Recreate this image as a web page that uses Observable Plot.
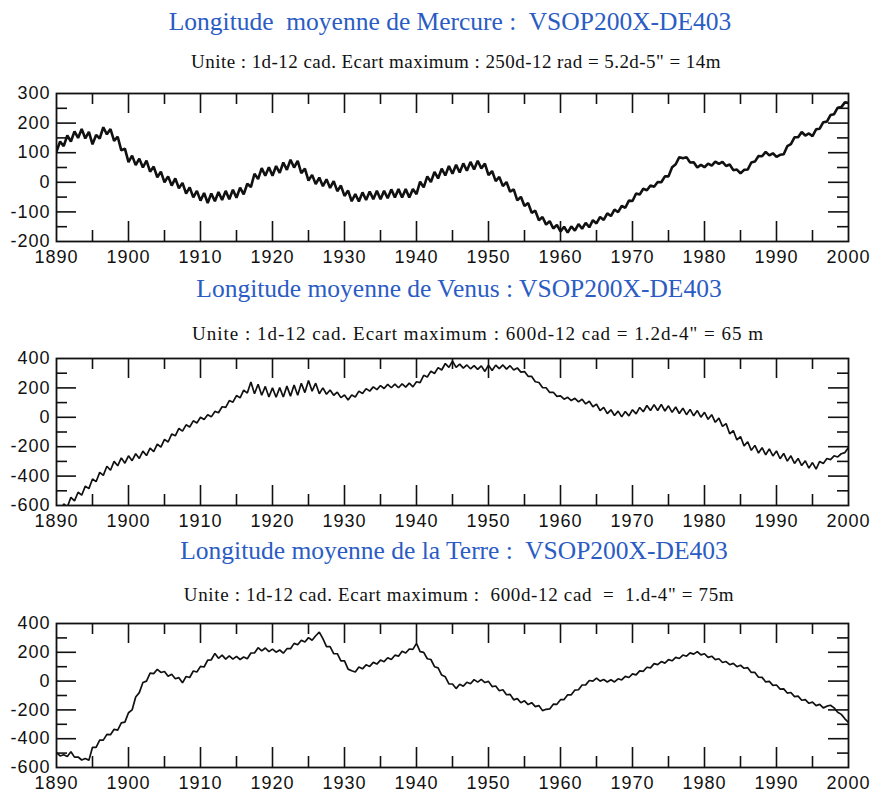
<!DOCTYPE html>
<html><head><meta charset="utf-8">
<script src="https://cdn.jsdelivr.net/npm/d3@7"></script>
<script src="https://cdn.jsdelivr.net/npm/@observablehq/plot@0.6"></script>
<style>
body{margin:0;background:#fff;}
#root{position:relative;width:877px;height:792px;overflow:hidden;background:#fff;}
.title{position:absolute;font-family:"Liberation Serif","Times New Roman",serif;color:#2a5cc4;font-size:25.5px;line-height:28px;white-space:pre;transform:translateX(-50%);}
.sub{position:absolute;font-family:"Liberation Serif","Times New Roman",serif;color:#111;font-size:19px;line-height:22px;white-space:pre;transform:translateX(-50%);}
.panel{position:absolute;left:0;}
</style></head><body><div id="root"></div>
<script>
// Time axis sampling (years)
const startYear = 1890;
const stepYear = 0.5;

// Mean longitude residuals, units of 1e-12 rad
const mercure = [104,138,122,158,138,172,150,180,148,170,
128,160,148,186,162,180,140,154,108,114,
68,90,58,80,50,73,36,53,17,36,
0,20,-11,13,-20,-2,-38,-17,-51,-29,
-62,-36,-70,-38,-64,-33,-60,-29,-57,-25,
-52,-18,-41,-5,-16,29,11,48,22,51,
22,55,32,67,42,76,50,72,31,46,
6,25,-6,16,-13,10,-19,4,-30,-11,
-46,-28,-64,-40,-65,-34,-60,-31,-57,-29,
-57,-29,-54,-24,-51,-23,-51,-23,-51,-23,
-40,2,-17,20,1,35,13,46,23,55,
29,59,33,64,39,69,43,73,47,63,
24,38,4,18,-13,1,-32,-24,-61,-49,
-80,-70,-103,-96,-128,-117,-143,-131,-156,-144,
-166,-150,-170,-149,-163,-141,-157,-137,-152,-128,
-139,-117,-127,-105,-114,-92,-101,-80,-86,-62,
-63,-38,-41,-22,-27,-11,-15,1,0,20,
20,51,61,85,81,85,67,68,50,59,
51,63,56,70,62,69,55,60,41,43,
30,42,43,67,70,89,88,103,91,98,
86,93,95,122,129,152,152,170,158,165,
156,179,181,203,205,227,230,252,254,270,
268];

const venus = [-640,-660,-590,-610,-545,-568,-510,-530,-468,-485,
-420,-438,-375,-395,-333,-360,-300,-330,-276,-312,
-262,-295,-248,-280,-230,-260,-210,-233,-182,-203,
-150,-168,-114,-126,-76,-94,-51,-66,-24,-39,
0,-15,17,3,40,31,72,68,114,103,
148,132,185,165,240,160,225,150,210,138,
200,136,202,138,212,144,220,150,232,168,
250,178,232,160,200,157,186,150,171,134,
152,118,152,138,178,162,195,178,207,188,
216,196,224,201,225,201,227,205,232,207,
242,236,286,274,314,298,338,322,366,340,
382,340,362,335,356,330,352,326,350,312,
355,318,355,331,356,328,351,322,336,307,
311,279,278,242,237,202,201,169,170,142,
146,123,136,114,129,105,123,91,109,72,
90,46,68,25,51,12,42,3,39,10,
51,23,67,38,80,46,86,46,88,43,
78,34,70,26,62,18,54,10,46,1,
34,-14,18,-34,-6,-62,-43,-112,-90,-154,
-131,-194,-166,-225,-191,-243,-207,-255,-215,-263,
-229,-282,-246,-298,-262,-314,-280,-328,-296,-346,
-308,-352,-300,-314,-280,-288,-262,-270,-248,-240,
-206];

const terre = [-497,-520,-511,-523,-490,-528,-527,-548,-537,-550,
-460,-460,-410,-410,-370,-372,-335,-340,-290,-285,
-220,-200,-110,-80,-10,0,55,52,82,60,
67,33,47,16,24,-12,32,25,70,63,
102,98,146,148,192,158,180,153,176,153,
172,150,167,155,195,195,232,210,230,205,
222,201,216,194,225,225,262,252,284,272,
302,284,315,340,295,240,240,191,190,140,
140,83,72,63,98,85,113,102,130,118,
146,135,162,150,180,173,207,195,223,220,
262,205,200,155,150,100,92,42,30,-20,
-20,-52,-22,-35,-8,-18,10,-7,12,-10,
-2,-38,-34,-67,-60,-95,-92,-130,-122,-150,
-137,-163,-150,-177,-170,-205,-196,-193,-160,-161,
-129,-128,-95,-95,-62,-60,-27,-26,4,0,
21,0,11,-6,10,-6,16,8,33,25,
50,43,71,68,96,92,121,114,136,125,
149,141,165,157,181,173,196,187,205,182,
190,165,173,149,155,129,136,114,123,100,
110,89,93,60,60,27,26,-6,-2,-30,
-27,-56,-54,-83,-79,-108,-104,-133,-129,-154,
-146,-170,-162,-186,-174,-168,-186,-216,-231,-262,
-287];

// Tick values
const xLabels = [1890,1900,1910,1920,1930,1940,1950,1960,1970,1980,1990,2000];
const xMajorInner = [1900,1910,1920,1930,1940,1950,1960,1970,1980,1990];
const xMinor = [1895,1905,1915,1925,1935,1945,1955,1965,1975,1985,1995];
const yLabelsMer = [300,200,100,0,-100,-200];
const yMajorMer = [200,100,0,-100];
const yMinorMer = [250,150,50,-50,-150];
const yLabelsVT = [400,200,0,-200,-400,-600];
const yMajorVT = [200,0,-200,-400];
const yMinorVT = [300,100,-100,-300,-500];

// Texts
const titles = ["Longitude  moyenne de Mercure :  VSOP200X-DE403",
                "Longitude moyenne de Venus : VSOP200X-DE403",
                "Longitude moyenne de la Terre :  VSOP200X-DE403"];
const subtitles = ["Unite : 1d-12 cad. Ecart maximum : 250d-12 rad = 5.2d-5\" = 14m",
                   "Unite : 1d-12 cad. Ecart maximum : 600d-12 cad = 1.2d-4\" = 65 m",
                   "Unite : 1d-12 cad. Ecart maximum :  600d-12 cad  =  1.d-4\" = 75m"];

const root = document.getElementById("root");
function addText(cls, txt, cx, top, spacing) {
  const d = document.createElement("div");
  d.className = cls; d.textContent = txt;
  d.style.left = cx + "px"; d.style.top = top + "px";
  if (spacing) d.style.letterSpacing = spacing + "px";
  root.appendChild(d);
}

function panel(values, yDomain, yLabels, yMajor, yMinor, frameTop, frameH, sw) {
  const mt = 10, mb = 30, ml = 56, mr = 29;
  const frameW = 877 - ml - mr;
  const data = values.map((v, i) => ({year: startYear + i * stepYear, value: v}));
  const tk = {stroke: "#111", strokeWidth: 1.6};
  const plot = Plot.plot({
    width: 877, height: frameH + mt + mb,
    marginLeft: ml, marginRight: mr, marginTop: mt, marginBottom: mb,
    x: {domain: [1890, 2000], label: null},
    y: {domain: yDomain, label: null},
    style: {fontFamily: "'Liberation Sans', Arial, sans-serif", fontSize: "18px", color: "#111", background: "transparent", overflow: "visible", letterSpacing: "1px"},
    marks: [
      Plot.line(data, {x: "year", y: "value", stroke: "#111", strokeWidth: sw, clip: true, strokeLinejoin: "miter"}),
      Plot.ruleX(xMajorInner, {...tk, insetBottom: frameH - 20}),
      Plot.ruleX(xMajorInner, {...tk, insetTop: frameH - 20}),
      Plot.ruleX(xMinor, {...tk, insetBottom: frameH - 11}),
      Plot.ruleX(xMinor, {...tk, insetTop: frameH - 11}),
      Plot.ruleY(yMajor, {...tk, insetRight: frameW - 20}),
      Plot.ruleY(yMajor, {...tk, insetLeft: frameW - 20}),
      Plot.ruleY(yMinor, {...tk, insetRight: frameW - 11}),
      Plot.ruleY(yMinor, {...tk, insetLeft: frameW - 11}),
      Plot.frame({stroke: "#111", strokeWidth: 1.8}),
      Plot.axisX(xLabels, {anchor: "bottom", tickSize: 0, tickPadding: 9, tickFormat: d => String(d)}),
      Plot.axisY(yLabels, {anchor: "left", tickSize: 0, tickPadding: 6, tickFormat: d => String(d)})
    ]
  });
  plot.classList.add("panel");
  plot.style.top = (frameTop - mt) + "px";
  root.appendChild(plot);
}

addText("title", titles[0], 450, 8);
addText("sub", subtitles[0], 456, 51, 0.45);
panel(mercure, [-200, 300], yLabelsMer, yMajorMer, yMinorMer, 93, 148, 2.6);

addText("title", titles[1], 459, 275);
addText("sub", subtitles[1], 478, 323, 1.0);
panel(venus, [-600, 400], yLabelsVT, yMajorVT, yMinorVT, 358, 147, 1.7);

addText("title", titles[2], 454, 537);
addText("sub", subtitles[2], 459, 584, 0.65);
panel(terre, [-600, 400], yLabelsVT, yMajorVT, yMinorVT, 623, 144, 1.7);
</script>
</body></html>
